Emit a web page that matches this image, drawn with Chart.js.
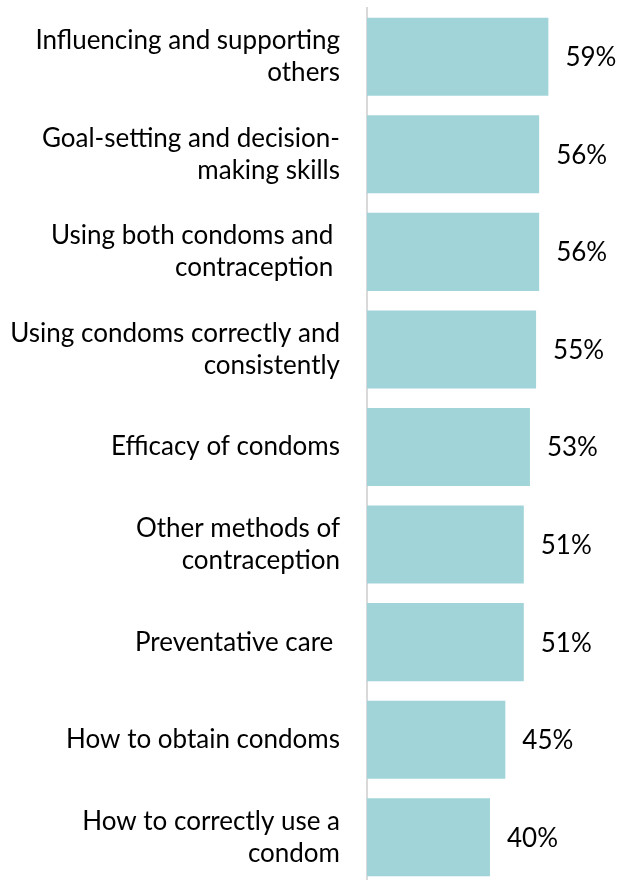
<!DOCTYPE html>
<html>
<head>
<meta charset="utf-8">
<script src="https://cdn.jsdelivr.net/npm/chart.js@4/dist/chart.umd.min.js"></script>
<style>
  html, body { margin: 0; padding: 0; background: #fff; overflow: hidden; }
  #wrap { position: relative; width: 624px; height: 886px; }
</style>
</head>
<body>
<div id="wrap"><canvas id="c" width="624" height="886"></canvas></div>
<script>
const categories = [
  ["Influencing and supporting", "others"],
  ["Goal-setting and decision-", "making skills"],
  ["Using both condoms and ", "contraception "],
  ["Using condoms correctly and", "consistently"],
  ["Efficacy of condoms"],
  ["Other methods of", "contraception"],
  ["Preventative care "],
  ["How to obtain condoms"],
  ["How to correctly use a", "condom"]
];
const values = [59, 56, 56, 55, 53, 51, 51, 45, 40];
const valueLabels = ["59%", "56%", "56%", "55%", "53%", "51%", "51%", "45%", "40%"];

const FONT = "Lato, 'Open Sans', sans-serif";

const valueLabelPlugin = {
  id: 'valueLabels',
  afterDatasetsDraw(chart) {
    const ctx = chart.ctx;
    const meta = chart.getDatasetMeta(0);
    ctx.save();
    ctx.font = "26px " + FONT;
    ctx.fillStyle = "#000";
    ctx.textAlign = "left";
    ctx.textBaseline = "middle";
    meta.data.forEach((bar, i) => {
      ctx.fillText(valueLabels[i], bar.x + 17, bar.y + 1);
    });
    ctx.restore();
  }
};

new Chart(document.getElementById('c'), {
  type: 'bar',
  data: {
    labels: categories,
    datasets: [{
      data: values,
      backgroundColor: '#a0d4d9',
      borderWidth: 0,
      categoryPercentage: 0.8,
      barPercentage: 1.0
    }]
  },
  options: {
    indexAxis: 'y',
    responsive: false,
    animation: false,
    layout: { padding: { top: 8, bottom: 0, left: 0, right: 0 } },
    plugins: { legend: { display: false }, tooltip: { enabled: false } },
    scales: {
      x: { display: false, min: 0, max: 83.6 },
      y: {
        afterFit(scale) {
          scale.width = 367;
          scale.paddingTop = 0;
          scale.paddingBottom = 0;
        },
        grid: { display: false, drawTicks: false },
        border: { display: true, color: '#d9d9d9', width: 2 },
        ticks: {
          color: '#000',
          padding: 27,
          font: { family: FONT, size: 26, lineHeight: 1.23 },
          crossAlign: 'near'
        }
      }
    }
  },
  plugins: [valueLabelPlugin]
});
</script>
</body>
</html>
